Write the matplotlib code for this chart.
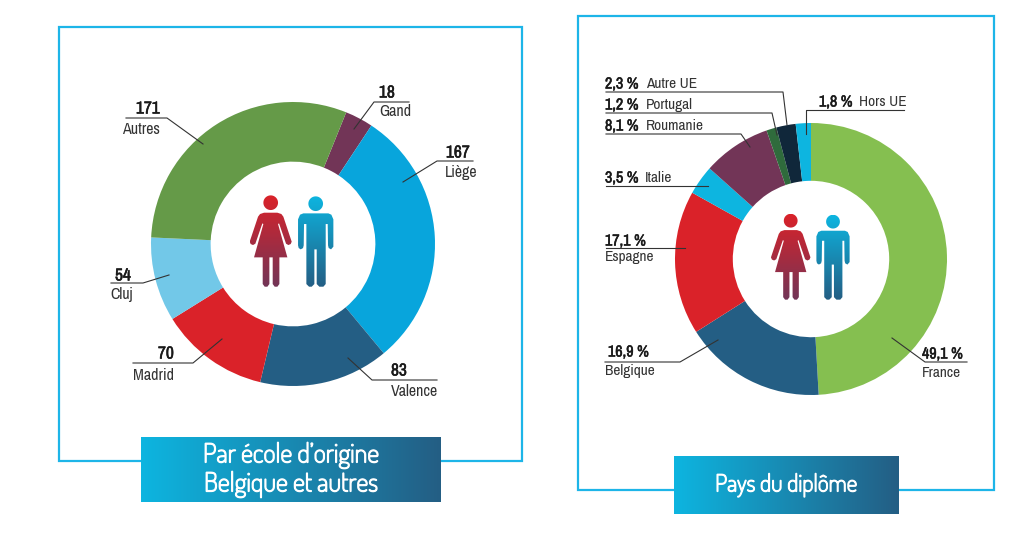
import numpy as np
import matplotlib
matplotlib.use('Agg')
import matplotlib.pyplot as plt
import matplotlib.patheffects as pe
from matplotlib.colors import LinearSegmentedColormap
from matplotlib.patches import Rectangle, PathPatch
from matplotlib.path import Path

W, H = 1024, 553
narrow = ['Archivo Narrow', 'Liberation Sans Narrow', 'Liberation Sans', 'DejaVu Sans']
banner_font = ['Dosis', 'Lato', 'DejaVu Sans']

# left chart, clockwise from Gand
school_names = ['Gand', 'Liège', 'Valence', 'Madrid', 'Cluj', 'Autres']
school_values = [18, 167, 83, 70, 54, 171]
school_colors = ['#723557', '#08A5DC', '#245E84', '#DA2229', '#72C8E8', '#659A48']

# right chart, clockwise from France
country_names = ['France', 'Belgique', 'Espagne', 'Italie', 'Roumanie', 'Portugal', 'Autre UE', 'Hors UE']
country_values = [49.1, 16.9, 17.1, 3.5, 8.1, 1.2, 2.3, 1.8]
country_labels = ['49,1 %', '16,9 %', '17,1 %', '3,5 %', '8,1 %', '1,2 %', '2,3 %', '1,8 %']
country_colors = ['#85BF50', '#245E84', '#DA2229', '#0DB5E0', '#723557', '#2F6B3C', '#10273A', '#0DB5E0']

# leader lines, in image pixels
school_leaders = [
    [(354, 129), (374, 102), (409, 102)],
    [(403, 182), (437, 161), (473, 161)],
    [(348, 358), (372, 380), (437, 380)],
    [(222, 339), (193, 363), (133, 363)],
    [(169, 275), (143, 283), (111, 283)],
    [(203, 144), (167, 118), (126, 118)],
]
# x value, y value, x name, y name
school_text = [
    (379, 93, 379, 112),
    (446, 153, 445, 172),
    (391, 371, 391, 391),
    (158, 354, 133, 375),
    (115, 276, 110, 295),
    (136, 109, 122, 129),
]
country_leaders = [
    [(892, 338), (925, 362), (967, 362)],
    [(718, 340), (680, 362), (605, 362)],
    [(606, 248), (685, 248)],
    [(606, 186), (708, 186)],
    [(606, 134), (741, 134), (750, 147)],
    [(606, 113), (772, 113), (777, 135)],
    [(606, 92), (783, 92), (787, 125)],
    [(806, 134), (806, 110), (904, 110)],
]
country_text = [
    (922, 354, 922, 373),
    (608, 352, 605, 371),
    (605, 241, 605, 257),
    (605, 178, 645, 178),
    (605, 126, 646, 126),
    (605, 105, 646, 105),
    (605, 84, 646, 84),
    (819, 102, 859, 102),
]

# pictogram outlines, measured from the left chart (3x zoom units)
woman_head = (632, 428, 22)
man_head = (767, 431, 22)
woman_body = [(612, 458), (652, 458), (664, 462), (670, 470), (695, 545), (692, 552), (685, 555), (678, 551),
              (657, 490), (654, 492), (682, 592), (658, 592), (658, 672), (652, 680), (644, 680), (638, 672),
              (638, 592), (628, 592), (628, 672), (622, 680), (614, 680), (608, 672), (608, 592), (582, 592),
              (610, 492), (607, 490), (586, 551), (579, 555), (572, 552), (569, 545), (594, 470), (600, 462)]
man_body = [(730, 460), (805, 460), (814, 464), (820, 478), (820, 560), (813, 568), (806, 564), (804, 556),
            (803, 492), (797, 492), (797, 672), (790, 680), (778, 680), (770, 672), (770, 568), (763, 568),
            (763, 672), (755, 680), (747, 680), (739, 672), (739, 492), (732, 492), (731, 556), (729, 564),
            (722, 568), (716, 564), (714, 556), (714, 478), (720, 464)]


def draw_donut(box, values, colors, startangle, hole):
    ax = fig.add_axes([box[0] / W, 1 - (box[1] + box[2]) / H, box[2] / W, box[2] / H])
    ax.pie(values, colors=colors, startangle=startangle, counterclock=False, radius=1,
           wedgeprops={'width': 1 - hole, 'linewidth': 0})
    ax.set_xlim(-1, 1)
    ax.set_ylim(-1, 1)


def gradient_fill(ax, extent, c0, c1, horizontal=False, clip=None, zorder=3):
    cmap = LinearSegmentedColormap.from_list('g', [c0, c1])
    grad = np.linspace(0, 1, 256)
    grad = grad[None, :] if horizontal else grad[:, None]
    im = ax.imshow(grad, cmap=cmap, extent=extent, aspect='auto', origin='upper', zorder=zorder)
    if clip is not None:
        im.set_clip_path(clip)
    return im


def draw_person(ax, head, body, c0, c1, ox, oy, scale):
    def conv(pts):
        return [(ox + (x - 632) / 3 * scale, oy + (y - 428) / 3 * scale) for x, y in pts]
    t = np.linspace(0, 2 * np.pi, 40)
    head_pts = conv(list(zip(head[0] + head[2] * np.cos(t), head[1] + head[2] * np.sin(t))))
    body_pts = conv(body)
    verts = head_pts + body_pts + [body_pts[0]]
    codes = [Path.MOVETO] + [Path.LINETO] * 38 + [Path.CLOSEPOLY]
    codes += [Path.MOVETO] + [Path.LINETO] * (len(body) - 1) + [Path.CLOSEPOLY]
    patch = PathPatch(Path(verts, codes), transform=ax.transData, facecolor='none', edgecolor='none')
    ax.add_patch(patch)
    xs, ys = zip(*verts)
    gradient_fill(ax, (min(xs), max(xs), max(ys), min(ys)), c0, c1, clip=patch, zorder=4)


fig = plt.figure(figsize=(W / 100, H / 100), dpi=100)

draw_donut((151, 102, 284), school_values, school_colors, 68, 0.58)
draw_donut((675, 123, 272), country_values, country_colors, 90, 0.575)

ov = fig.add_axes([0, 0, 1, 1], facecolor='none')
ov.set_xlim(0, W)
ov.set_ylim(H, 0)
ov.axis('off')

frame_color = '#1DB5E8'
ov.add_patch(Rectangle((59, 27), 463, 434, fill=False, ec=frame_color, lw=1.6, zorder=1))
ov.add_patch(Rectangle((578, 16), 416, 474, fill=False, ec=frame_color, lw=1.6, zorder=1))

# banners, the installed font has one weight so thicken it with a stroke
white_bold = [pe.withStroke(linewidth=0.9, foreground='white')]
dark_bold = [pe.withStroke(linewidth=0.4, foreground='#1a1a1a')]
gradient_fill(ov, (141, 441, 502, 437), '#0DB5E0', '#245E84', horizontal=True)
gradient_fill(ov, (674, 899, 514, 456), '#0DB5E0', '#245E84', horizontal=True)
ov.text(291, 455, "Par école d’origine", color='white', ha='center', va='center', fontsize=19,
        family=banner_font, zorder=5, path_effects=white_bold)
ov.text(291, 484, 'Belgique et autres', color='white', ha='center', va='center', fontsize=19,
        family=banner_font, zorder=5, path_effects=white_bold)
ov.text(786, 485, 'Pays du diplôme', color='white', ha='center', va='center', fontsize=17,
        family=banner_font, zorder=5, path_effects=white_bold)

# pictograms
draw_person(ov, woman_head, woman_body, '#DA2229', '#723557', 270.7, 202.7, 1.0)
draw_person(ov, man_head, man_body, '#0DB5E0', '#245E84', 270.7, 202.7, 1.0)
draw_person(ov, woman_head, woman_body, '#DA2229', '#723557', 790.7, 220.7, 0.94)
draw_person(ov, man_head, man_body, '#0DB5E0', '#245E84', 790.7, 220.7, 0.94)

# left labels
for name, val, line, pos in zip(school_names, school_values, school_leaders, school_text):
    ov.plot(*zip(*line), color='#333333', lw=0.8, zorder=6)
    ov.text(pos[0], pos[1], str(val), fontsize=12.5, family=narrow, color='#1a1a1a',
            va='center', ha='left', zorder=7, path_effects=dark_bold)
    ov.text(pos[2], pos[3], name, fontsize=11.5, family=narrow, color='#333333',
            va='center', ha='left', zorder=7)

# right labels
for name, lab, line, pos in zip(country_names, country_labels, country_leaders, country_text):
    ov.plot(*zip(*line), color='#333333', lw=0.8, zorder=6)
    ov.text(pos[0], pos[1], lab, fontsize=11.5, family=narrow, color='#1a1a1a',
            va='center', ha='left', zorder=7, path_effects=dark_bold)
    ov.text(pos[2], pos[3], name, fontsize=11, family=narrow, color='#333333',
            va='center', ha='left', zorder=7)

fig.savefig('out.png', dpi=100, facecolor='white')
